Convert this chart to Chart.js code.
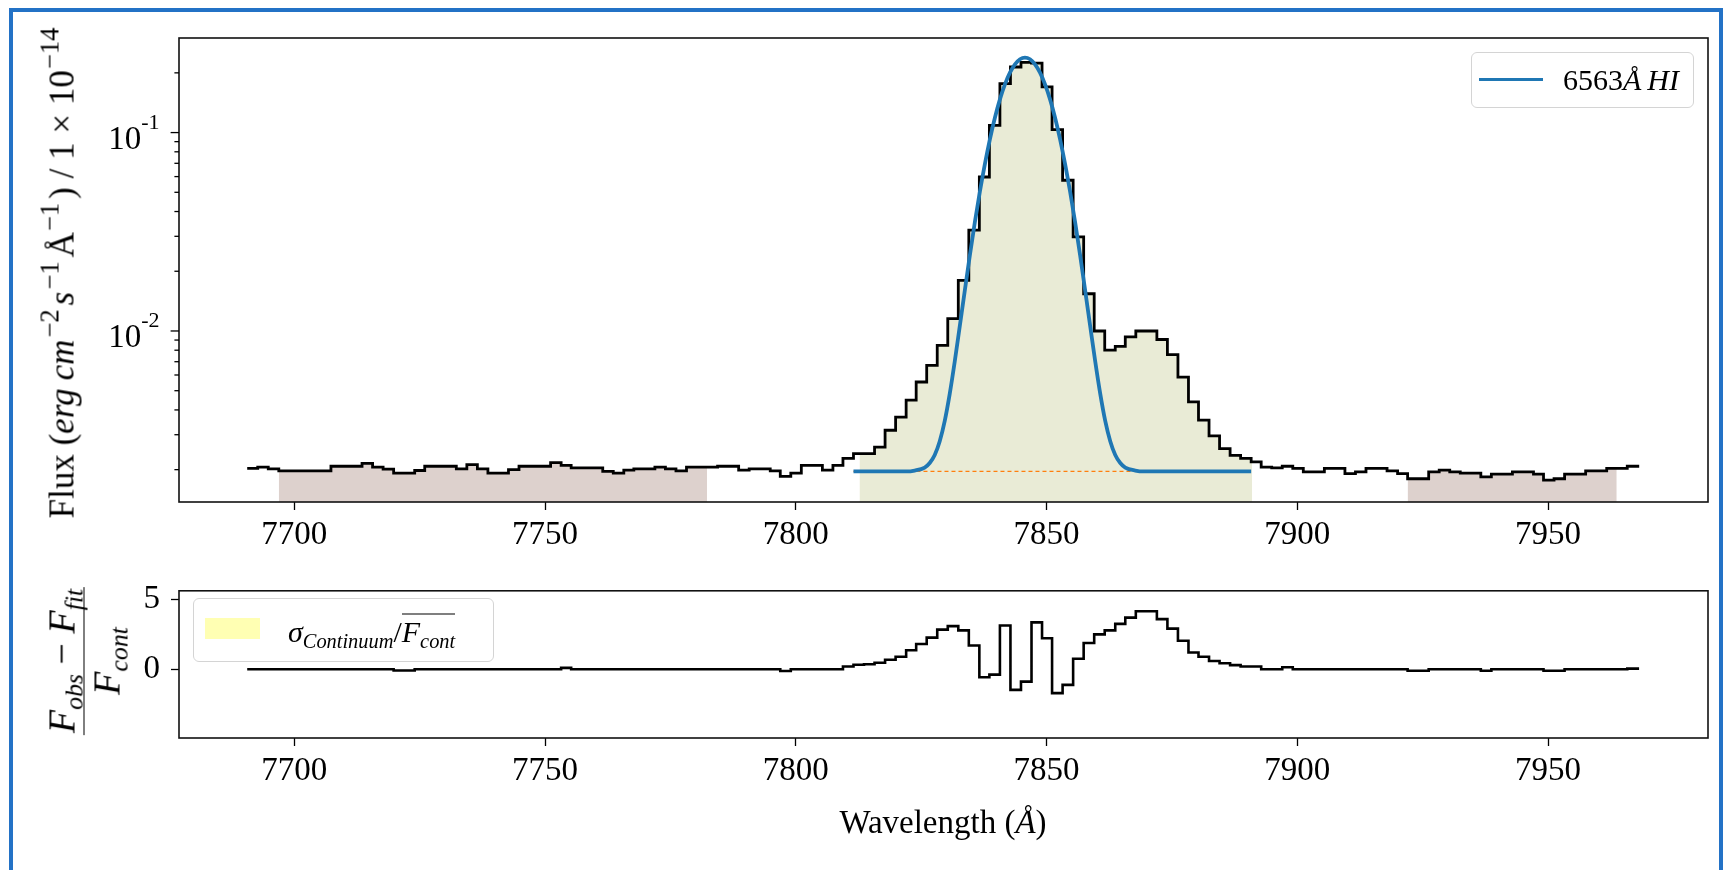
<!DOCTYPE html>
<html>
<head>
<meta charset="utf-8">
<title>H-alpha line fit</title>
<script src="https://cdn.jsdelivr.net/npm/chart.js"></script>
<style>
  html, body { margin: 0; padding: 0; background: #fff; }
  #page { position: relative; width: 1725px; height: 870px; overflow: hidden;
          font-family: 'Liberation Serif', 'Times New Roman', serif; color: #000; }
  canvas { position: absolute; left: 0; }
  .edge { position: absolute; background: #2372c6; }
  .txt { position: absolute; white-space: nowrap; line-height: 1; }
  .rot { transform: translate(-50%, -50%) rotate(-90deg); }
  .txt sup { font-size: 68%; vertical-align: 0.55em; line-height: 0; }
  .txt sub { font-size: 68%; vertical-align: -0.3em; line-height: 0; }
  .ylab sup { font-size: 76%; margin: 0 4px 0 1px; }
  .ylab i { margin-right: 1px; }
  .frac { display: inline-flex; flex-direction: column; align-items: center; }
  .frac .num { border-bottom: 1.6px solid #000; padding: 0 2px 3px; }
  .frac .den { padding-top: 3px; }
  .legend { position: absolute; box-sizing: border-box; border: 1.5px solid #d4d4d4;
            border-radius: 6px; background: rgba(255,255,255,0.8); }
  .ovl { display: inline-block; border-top: 1.6px solid #000; padding-top: 2px; line-height: 1; }
</style>
</head>
<body>
<div id="page">
  <canvas id="fluxChart" width="1725" height="560" style="top:0"></canvas>
  <canvas id="residChart" width="1725" height="310" style="top:560px"></canvas>

  <div class="edge" style="left:9px; top:8px; width:4px; height:862px"></div>
  <div class="edge" style="left:9px; top:8px; width:1714px; height:4px"></div>
  <div class="edge" style="left:1719px; top:8px; width:4px; height:862px"></div>

  <div class="txt rot ylab" style="left:62px; top:271px; font-size:35px">Flux (<i>erg</i>&thinsp;<i>cm</i><sup>−2</sup><i>s</i><sup>−1</sup>Å<sup>−1</sup>) / 1 × 10<sup>−14</sup></div>

  <div class="txt rot" style="left:84px; top:661px; font-size:38px"><span class="frac"><span class="num"><i>F</i><sub><i>obs</i></sub> − <i>F</i><sub><i>fit</i></sub></span><span class="den"><i>F</i><sub><i>cont</i></sub></span></span></div>

  <div class="txt" style="left:943px; top:822px; transform:translate(-50%,-50%); font-size:33px">Wavelength (<i>Å</i>)</div>

  <div class="legend" style="left:1471px; top:52px; width:223px; height:56px">
    <div style="position:absolute; left:7px; top:24.5px; width:64px; height:3.8px; background:#1f77b4"></div>
    <div class="txt" style="left:91px; top:27px; transform:translateY(-50%); font-size:30px">6563<i>Å</i>&thinsp;<i>HI</i></div>
  </div>

  <div class="legend" style="left:193px; top:598px; width:301px; height:64px">
    <div style="position:absolute; left:11px; top:19px; width:55px; height:21px; background:#ffffb3"></div>
    <div class="txt" style="left:94px; top:31px; transform:translateY(-50%); font-size:30px"><i>σ</i><sub><i>Continuum</i></sub>/<span class="ovl"><i>F</i><sub><i>cont</i></sub></span></div>
  </div>
</div>

<script>
// Observed spectrum, binned (wavelength in Angstrom, flux in 1e-14 erg/cm2/s/A)
const wavelength = [
  7690.6, 7692.7, 7694.8, 7696.9, 7698.9, 7701.0, 7703.1, 7705.2, 7707.3, 7709.4,
  7711.5, 7713.5, 7715.6, 7717.7, 7719.8, 7721.9, 7724.0, 7726.0, 7728.1, 7730.2,
  7732.3, 7734.4, 7736.5, 7738.6, 7740.6, 7742.7, 7744.8, 7746.9, 7749.0, 7751.1,
  7753.2, 7755.2, 7757.3, 7759.4, 7761.5, 7763.6, 7765.7, 7767.7, 7769.8, 7771.9,
  7774.0, 7776.1, 7778.2, 7780.3, 7782.3, 7784.4, 7786.5, 7788.6, 7790.7, 7792.8,
  7794.9, 7796.9, 7799.0, 7801.1, 7803.2, 7805.3, 7807.4, 7809.4, 7811.5, 7813.6,
  7815.7, 7817.8, 7819.9, 7822.0, 7824.0, 7826.1, 7828.2, 7830.3, 7832.4, 7834.5,
  7836.6, 7838.6, 7840.7, 7842.8, 7844.9, 7847.0, 7849.1, 7851.1, 7853.2, 7855.3,
  7857.4, 7859.5, 7861.6, 7863.7, 7865.7, 7867.8, 7869.9, 7872.0, 7874.1, 7876.2,
  7878.3, 7880.3, 7882.4, 7884.5, 7886.6, 7888.7, 7890.8, 7892.8, 7894.9, 7897.0,
  7899.1, 7901.2, 7903.3, 7905.4, 7907.4, 7909.5, 7911.6, 7913.7, 7915.8, 7917.9,
  7920.0, 7922.0, 7924.1, 7926.2, 7928.3, 7930.4, 7932.5, 7934.5, 7936.6, 7938.7,
  7940.8, 7942.9, 7945.0, 7947.1, 7949.1, 7951.2, 7953.3, 7955.4, 7957.5, 7959.6,
  7961.7, 7963.7, 7965.8, 7967.9
];

const flux = [
  0.00203, 0.00206, 0.00202, 0.00197, 0.00197, 0.00197, 0.00197, 0.00197, 0.00208, 0.00208,
  0.00208, 0.00215, 0.00206, 0.00201, 0.00192, 0.00192, 0.00198, 0.00208, 0.00208, 0.00208,
  0.00202, 0.00212, 0.00202, 0.00192, 0.00192, 0.00200, 0.00208, 0.00208, 0.00208, 0.00217,
  0.00210, 0.00204, 0.00204, 0.00204, 0.00196, 0.00192, 0.00199, 0.00202, 0.00202, 0.00206,
  0.00202, 0.00197, 0.00206, 0.00206, 0.00206, 0.00208, 0.00208, 0.00199, 0.00202, 0.00202,
  0.00197, 0.00185, 0.00192, 0.00210, 0.00210, 0.00199, 0.00210, 0.00228, 0.00241, 0.00241,
  0.00260, 0.00316, 0.00368, 0.00448, 0.00553, 0.00671, 0.00847, 0.01154, 0.0180, 0.0322,
  0.0597, 0.1088, 0.1766, 0.214, 0.226, 0.224, 0.170, 0.1035, 0.0575, 0.0298,
  0.0154, 0.0100, 0.0080, 0.00837, 0.00933, 0.0100, 0.0100, 0.00906, 0.0076, 0.00586,
  0.00439, 0.00355, 0.00296, 0.00255, 0.00236, 0.00228, 0.00219, 0.00206, 0.00204, 0.00208,
  0.00203, 0.00195, 0.00195, 0.00203, 0.00203, 0.00191, 0.00195, 0.00203, 0.00203, 0.00197,
  0.00191, 0.00180, 0.00180, 0.00195, 0.00199, 0.00195, 0.00192, 0.00192, 0.00184, 0.00190,
  0.00190, 0.00195, 0.00195, 0.00190, 0.00177, 0.00180, 0.00190, 0.00190, 0.00197, 0.00197,
  0.00203, 0.00203, 0.00208, 0.00212
];

// (F_obs - F_fit) / F_cont on the same bins
const residual = [
  0, 0, 0, 0, 0, 0, 0, 0, 0, 0,
  0, 0, 0, 0, -0.08, -0.08, 0, 0, 0, 0,
  0, 0, 0, 0, 0, 0, 0, 0, 0, 0,
  0.1, 0, 0, 0, 0, 0, 0, 0, 0, 0,
  0, 0, 0, 0, 0, 0, 0, 0, 0, 0,
  0, -0.12, 0, 0, 0, 0, 0, 0.2, 0.33, 0.36,
  0.47, 0.68, 0.90, 1.36, 1.81, 2.26, 2.83, 3.08, 2.78, 1.70,
  -0.57, -0.38, 3.12, -1.47, -0.88, 3.35, 2.22, -1.70, -1.11, 0.75,
  1.88, 2.49, 2.78, 3.24, 3.69, 4.14, 4.14, 3.58, 2.90, 2.04,
  1.20, 0.90, 0.59, 0.43, 0.30, 0.20, 0.20, 0, 0, 0.15,
  0, 0, 0, 0, 0, 0, 0, 0, 0, 0,
  0, -0.1, -0.1, 0, 0, 0, 0, 0, -0.1, 0,
  0, 0, 0, 0, -0.1, -0.1, 0, 0, 0, 0,
  0, 0, 0.05, 0.15
];

// Gaussian profile of the 6563 line plus continuum
const fitWave = [
  7811.5, 7818.0, 7822.0, 7823.7, 7825.7, 7826.7, 7827.7, 7828.7, 7829.7, 7830.7,
  7831.7, 7832.7, 7833.7, 7834.7, 7835.7, 7836.7, 7837.7, 7838.7, 7839.7, 7840.7,
  7841.7, 7842.7, 7843.7, 7844.7, 7845.7, 7846.7, 7847.7, 7848.7, 7849.7, 7850.7,
  7851.7, 7852.7, 7853.7, 7854.7, 7855.7, 7856.7, 7857.7, 7858.7, 7859.7, 7860.7,
  7861.7, 7862.7, 7863.7, 7864.7, 7865.7, 7867.7, 7869.4, 7873.0, 7890.8
];
const fitFlux = [
  0.00196, 0.00196, 0.00196, 0.00198, 0.00205, 0.00216, 0.00237, 0.00278, 0.00352, 0.00483,
  0.00703, 0.0106, 0.0160, 0.0240, 0.0353, 0.0503, 0.0694, 0.0925, 0.1188, 0.1470,
  0.1749, 0.2004, 0.2208, 0.2341, 0.2387, 0.2341, 0.2208, 0.2004, 0.1749, 0.1470,
  0.1188, 0.0925, 0.0694, 0.0503, 0.0353, 0.0240, 0.0160, 0.0106, 0.00703, 0.00483,
  0.00352, 0.00278, 0.00237, 0.00216, 0.00205, 0.00198, 0.00196, 0.00196, 0.00196
];

// fitted continuum level under the line
const contWave = [7811.5, 7890.8];
const contFlux = [0.00196, 0.00196];

// shaded windows: continuum bands and the line band
const contWindows = [[7696.9, 7782.3], [7922.0, 7963.7]];
const lineWindow = [7812.7, 7891.0];

// axis ticks
const waveTicks = [7700, 7750, 7800, 7850, 7900, 7950];
const fluxMajorTicks = [0.01, 0.1];
const fluxMajorLabels = ['10^-2', '10^-1'];
const fluxMinorTicks = [0.002, 0.003, 0.004, 0.005, 0.006, 0.007, 0.008, 0.009,
                        0.02, 0.03, 0.04, 0.05, 0.06, 0.07, 0.08, 0.09, 0.2];
const residTicks = [0, 5];

Chart.defaults.font.family = "'Liberation Serif', 'Times New Roman', serif";
Chart.defaults.font.size = 33;
Chart.defaults.color = '#000';

// points of the step curve clipped to [lo, hi]
function windowPoints(lo, hi) {
  let k = 0;
  while (k < wavelength.length - 1 && wavelength[k + 1] <= lo) k++;
  const pts = [{ x: lo, y: flux[k] }];
  for (let i = k + 1; i < wavelength.length && wavelength[i] < hi; i++) {
    pts.push({ x: wavelength[i], y: flux[i] });
  }
  pts.push({ x: hi, y: pts[pts.length - 1].y });
  return pts;
}

function shade(range, color, label) {
  return {
    label: label, data: windowPoints(range[0], range[1]),
    stepped: true, fill: 'start', backgroundColor: color,
    borderWidth: 0, borderColor: 'rgba(0,0,0,0)', pointRadius: 0, order: 5
  };
}

function waveAxis(height) {
  return {
    type: 'linear', min: 7677.0, max: 7981.9,
    afterFit: s => { s.height = height; },
    afterBuildTicks: s => { s.ticks = waveTicks.map(v => ({ value: v })); },
    ticks: { autoSkip: false, maxRotation: 0, padding: 6, callback: v => String(v) },
    grid: { drawOnChartArea: false, drawTicks: true, tickLength: 8, tickWidth: 1.3, tickColor: '#000' },
    border: { display: false }
  };
}

// full box around the axes, drawn over the data
const axesBox = {
  id: 'axesBox',
  afterDatasetsDraw(chart) {
    const { ctx, chartArea: a } = chart;
    ctx.save();
    ctx.strokeStyle = '#111';
    ctx.lineWidth = 1.6;
    ctx.strokeRect(a.left, a.top, a.right - a.left, a.bottom - a.top);
    ctx.restore();
  }
};

// log y axis: long/short tick marks and 10^n labels
const logAxisTicks = {
  id: 'logAxisTicks',
  afterDraw(chart) {
    const s = chart.scales.y, ctx = chart.ctx, left = chart.chartArea.left;
    ctx.save();
    ctx.strokeStyle = '#000';
    ctx.lineWidth = 1.3;
    s.ticks.forEach(t => {
      const y = s.getPixelForValue(t.value);
      const len = t.major ? 8.4 : 4.6;
      ctx.beginPath();
      ctx.moveTo(left - len, y);
      ctx.lineTo(left, y);
      ctx.stroke();
    });
    ctx.fillStyle = '#000';
    ctx.textBaseline = 'alphabetic';
    fluxMajorTicks.forEach((v, i) => {
      const [base, exp] = fluxMajorLabels[i].split('^');
      const y = s.getPixelForValue(v);
      ctx.font = "22px 'Liberation Serif'";
      const we = ctx.measureText(exp).width;
      ctx.font = "33px 'Liberation Serif'";
      const wb = ctx.measureText(base).width;
      const right = left - 19.5;
      ctx.fillText(base, right - we - wb, y + 16);
      ctx.font = "22px 'Liberation Serif'";
      ctx.fillText(exp, right - we, y - 4);
    });
    ctx.restore();
  }
};

new Chart(document.getElementById('fluxChart'), {
  type: 'line',
  data: {
    datasets: [
      { label: '6563Å HI', data: fitWave.map((w, i) => ({ x: w, y: fitFlux[i] })),
        borderColor: '#1f77b4', borderWidth: 3.8, cubicInterpolationMode: 'monotone',
        pointRadius: 0, fill: false, order: 0 },
      { label: 'continuum', data: contWave.map((w, i) => ({ x: w, y: contFlux[i] })),
        borderColor: '#ff7f0e', borderWidth: 1.3, borderDash: [4, 3], pointRadius: 0, fill: false, order: 2 },
      { label: 'flux', data: wavelength.map((w, i) => ({ x: w, y: flux[i] })),
        stepped: true, borderColor: '#000', borderWidth: 2.8, pointRadius: 0, fill: false, order: 1 },
      shade(lineWindow, '#e9ebd6', 'line window'),
      shade(contWindows[0], '#ddd1cd', 'continuum window'),
      shade(contWindows[1], '#ddd1cd', 'continuum window')
    ]
  },
  options: {
    responsive: false, animation: false, devicePixelRatio: 1,
    layout: { padding: { top: 38, right: 17, left: 0, bottom: 0 } },
    plugins: { legend: { display: false }, tooltip: { enabled: false } },
    scales: {
      x: waveAxis(58),
      y: {
        type: 'logarithmic', min: 0.001374, max: 0.2997,
        afterFit: s => { s.width = 179; },
        afterBuildTicks: s => {
          s.ticks = fluxMinorTicks.map(v => ({ value: v, major: false }))
            .concat(fluxMajorTicks.map(v => ({ value: v, major: true })));
        },
        ticks: { display: false },
        grid: { display: false },
        border: { display: false }
      }
    }
  },
  plugins: [axesBox, logAxisTicks]
});

new Chart(document.getElementById('residChart'), {
  type: 'line',
  data: {
    datasets: [
      { label: 'residual', data: wavelength.map((w, i) => ({ x: w, y: residual[i] })),
        stepped: true, borderColor: '#000', borderWidth: 2.6, pointRadius: 0, fill: false }
    ]
  },
  options: {
    responsive: false, animation: false, devicePixelRatio: 1,
    layout: { padding: { top: 23, right: 17, left: 0, bottom: 72 } },
    plugins: { legend: { display: false }, tooltip: { enabled: false } },
    scales: {
      x: waveAxis(60),
      y: {
        type: 'linear', min: -4.9, max: 5.6,
        afterFit: s => { s.width = 179; },
        afterBuildTicks: s => { s.ticks = residTicks.map(v => ({ value: v })); },
        ticks: { padding: 11, callback: v => String(v) },
        grid: { drawOnChartArea: false, drawTicks: true, tickLength: 8, tickWidth: 1.3, tickColor: '#000' },
        border: { display: false }
      }
    }
  },
  plugins: [axesBox]
});
</script>
</body>
</html>
